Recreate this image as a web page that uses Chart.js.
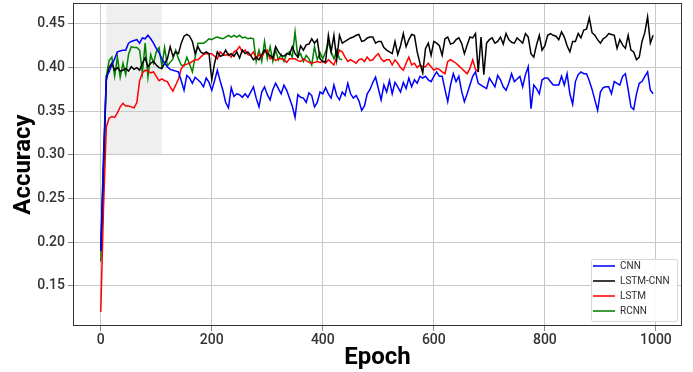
<!DOCTYPE html>
<html><head><meta charset="utf-8">
<script src="https://cdn.jsdelivr.net/npm/chart.js@4/dist/chart.umd.min.js"></script>
<style>html,body{margin:0;padding:0;background:#fff;}#wrap{width:693px;height:372px;position:relative;}</style>
</head><body><div id="wrap"><canvas id="c" width="693" height="372"></canvas></div>
<script>
const epochStep = 5;
const seriesNames = ['CNN', 'LSTM-CNN', 'LSTM', 'RCNN'];
const seriesColors = ['#0000ff', '#000000', '#ff0000', '#008000'];

const cnnAcc = [
0.19,0.30,0.39,0.395,0.403,0.41,0.418,0.419,0.42,0.42,
0.428,0.43,0.431,0.432,0.428,0.434,0.433,0.437,0.433,0.428,
0.422,0.417,0.41,0.405,0.401,0.398,0.397,0.396,0.395,0.385,
0.374,0.391,0.388,0.382,0.389,0.386,0.383,0.378,0.388,0.383,
0.374,0.385,0.397,0.385,0.374,0.36,0.354,0.377,0.367,0.37,
0.369,0.366,0.37,0.366,0.372,0.378,0.365,0.355,0.372,0.378,
0.369,0.363,0.375,0.382,0.376,0.37,0.38,0.374,0.365,0.356,
0.343,0.369,0.366,0.365,0.36,0.371,0.368,0.355,0.36,0.372,
0.37,0.377,0.37,0.365,0.38,0.368,0.363,0.372,0.368,0.382,
0.37,0.365,0.368,0.362,0.351,0.356,0.37,0.375,0.383,0.389,
0.376,0.363,0.38,0.372,0.385,0.37,0.383,0.378,0.372,0.383,
0.376,0.388,0.378,0.386,0.382,0.39,0.388,0.39,0.386,0.384,
0.39,0.395,0.39,0.39,0.375,0.361,0.38,0.393,0.384,0.39,
0.373,0.361,0.37,0.38,0.39,0.395,0.382,0.38,0.378,0.376,
0.388,0.383,0.378,0.391,0.386,0.378,0.374,0.382,0.393,0.384,
0.387,0.39,0.378,0.392,0.401,0.353,0.38,0.376,0.37,0.386,
0.388,0.388,0.384,0.38,0.38,0.38,0.39,0.38,0.393,0.37,
0.358,0.384,0.392,0.395,0.393,0.393,0.385,0.375,0.363,0.351,
0.372,0.377,0.378,0.378,0.37,0.384,0.382,0.38,0.39,0.393,
0.375,0.355,0.352,0.37,0.382,0.384,0.39,0.395,0.374,0.37
];
const lstmCnnAcc = [
0.19,0.29,0.385,0.40,0.405,0.397,0.40,0.396,0.397,0.399,
0.396,0.401,0.398,0.40,0.397,0.405,0.411,0.401,0.405,0.407,
0.403,0.40,0.399,0.405,0.41,0.424,0.413,0.418,0.416,0.428,
0.436,0.438,0.436,0.43,0.416,0.424,0.418,0.416,0.418,0.416,
0.386,0.405,0.418,0.413,0.414,0.42,0.414,0.416,0.413,0.418,
0.411,0.42,0.416,0.418,0.414,0.409,0.412,0.409,0.415,0.42,
0.416,0.414,0.411,0.424,0.418,0.414,0.413,0.416,0.415,0.424,
0.416,0.412,0.425,0.42,0.426,0.427,0.433,0.428,0.432,0.41,
0.407,0.407,0.437,0.418,0.437,0.409,0.437,0.428,0.43,0.432,
0.434,0.435,0.437,0.438,0.43,0.431,0.434,0.435,0.435,0.428,
0.43,0.43,0.423,0.42,0.418,0.416,0.43,0.415,0.425,0.439,
0.424,0.432,0.438,0.437,0.418,0.405,0.394,0.422,0.428,0.414,
0.43,0.428,0.425,0.414,0.433,0.435,0.427,0.428,0.432,0.434,
0.428,0.416,0.426,0.435,0.434,0.439,0.395,0.435,0.392,0.428,
0.432,0.434,0.428,0.43,0.435,0.427,0.439,0.432,0.429,0.428,
0.434,0.431,0.428,0.439,0.435,0.416,0.412,0.426,0.437,0.42,
0.425,0.437,0.439,0.437,0.436,0.432,0.441,0.435,0.425,0.418,
0.43,0.43,0.439,0.434,0.443,0.444,0.457,0.44,0.437,0.432,
0.428,0.433,0.435,0.439,0.438,0.437,0.422,0.432,0.426,0.422,
0.437,0.42,0.418,0.409,0.412,0.43,0.44,0.458,0.428,0.437
];
const lstmAcc = [
0.12,0.24,0.332,0.342,0.344,0.343,0.348,0.355,0.359,0.356,
0.356,0.355,0.354,0.36,0.385,0.394,0.397,0.396,0.394,0.395,
0.39,0.385,0.387,0.385,0.384,0.378,0.373,0.38,0.387,0.399,
0.403,0.404,0.405,0.407,0.409,0.409,0.412,0.415,0.416,0.416,
0.416,0.413,0.41,0.418,0.415,0.414,0.416,0.412,0.418,0.42,
0.424,0.418,0.42,0.415,0.414,0.418,0.41,0.415,0.412,0.418,
0.42,0.41,0.412,0.408,0.41,0.41,0.409,0.406,0.41,0.41,
0.41,0.408,0.407,0.41,0.408,0.406,0.405,0.406,0.407,0.406,
0.407,0.405,0.409,0.406,0.403,0.412,0.42,0.418,0.412,0.407,
0.409,0.407,0.405,0.409,0.41,0.407,0.412,0.408,0.409,0.413,
0.416,0.41,0.407,0.409,0.409,0.403,0.409,0.405,0.40,0.397,
0.405,0.412,0.403,0.405,0.40,0.403,0.401,0.401,0.405,0.401,
0.397,0.399,0.398,0.395,0.393,0.407,0.409,0.407,0.405,0.402,
0.399,0.396,0.393,0.399,0.409,0.398,0.395
];
const rcnnAcc = [
0.178,0.28,0.39,0.408,0.412,0.39,0.412,0.389,0.405,0.392,
0.415,0.424,0.423,0.423,0.42,0.394,0.428,0.389,0.415,0.405,
0.418,0.423,0.402,0.423,0.402,0.406,0.41,0.42,0.41,0.403,
0.402,0.412,0.404,0.395,0.412,0.428,0.428,0.428,0.43,0.433,
0.432,0.434,0.435,0.434,0.433,0.435,0.437,0.435,0.437,0.435,
0.437,0.434,0.435,0.433,0.434,0.433,0.407,0.42,0.407,0.43,
0.41,0.424,0.407,0.42,0.409,0.415,0.407,0.416,0.418,0.412,
0.441,0.412,0.416,0.407,0.414,0.41,0.403,0.424,0.409,0.417,
0.41,0.418,0.429,0.418,0.41,0.42,0.41,0.409
];
const seriesValues = [cnnAcc, lstmCnnAcc, lstmAcc, rcnnAcc];

const xTicks = [0, 200, 400, 600, 800, 1000];
const yTicks = [0.15, 0.20, 0.25, 0.30, 0.35, 0.40, 0.45];
const xRange = [-50, 1047];
const yRange = [0.104, 0.474];
const shadeEpochs = [10, 110];
const shadeFloor = 0.30;

const datasets = seriesNames.map((name, k) => ({
  label: name,
  data: seriesValues[k].map((v, i) => ({ x: i * epochStep, y: v })),
  borderColor: seriesColors[k],
  backgroundColor: seriesColors[k],
  borderWidth: 1.5,
  pointRadius: 0,
  tension: 0,
  fill: false
}));

const shadePlugin = {
  id: 'shade',
  beforeDraw(chart) {
    const { ctx, chartArea: ca, scales: { x, y } } = chart;
    const x0 = x.getPixelForValue(shadeEpochs[0]);
    const x1 = x.getPixelForValue(shadeEpochs[1]);
    const y0 = y.getPixelForValue(shadeFloor);
    ctx.save();
    ctx.fillStyle = '#efefef';
    ctx.fillRect(x0, ca.top, x1 - x0, y0 - ca.top);
    ctx.restore();
  }
};
const framePlugin = {
  id: 'frame',
  afterDatasetsDraw(chart) {
    const { ctx, chartArea: ca } = chart;
    ctx.save();
    ctx.strokeStyle = '#333';
    ctx.lineWidth = 1;
    ctx.strokeRect(ca.left + 0.5, ca.top + 0.5, ca.right - ca.left - 1, ca.bottom - ca.top - 1);
    ctx.restore();
  }
};
const legendPlugin = {
  id: 'legendPlace',
  afterLayout(chart) {
    const lg = chart.legend, ca = chart.chartArea;
    if (!lg) return;
    const w = lg.width;
    lg.left = ca.right - 94;
    lg.right = lg.left + w;
    lg.bottom = ca.bottom - 5;
    lg.top = ca.top;
  },
  afterDraw(chart) {
    const lg = chart.legend, ca = chart.chartArea, ctx = chart.ctx;
    if (!lg) return;
    const bx0 = lg.left + 3.5, bx1 = ca.right - 4.5, by1 = lg.bottom + 0.5, by0 = by1 - 62;
    ctx.save();
    ctx.fillStyle = 'rgba(255,255,255,0.9)';
    ctx.strokeStyle = '#d6d6d6';
    ctx.lineWidth = 1;
    ctx.beginPath();
    ctx.roundRect(bx0, by0, bx1 - bx0, by1 - by0, 2);
    ctx.fill();
    ctx.stroke();
    ctx.restore();
    lg.draw();
  }
};

const tickFont = { family: 'Roboto', size: 14, weight: '500' };
const titleFont = { family: 'Roboto', size: 24, weight: 'bold' };
const noPad = s => { s.paddingTop = 0; s.paddingBottom = 0; s.paddingLeft = 0; s.paddingRight = 0; };

new Chart(document.getElementById('c'), {
  type: 'line',
  data: { datasets },
  options: {
    responsive: false,
    animation: false,
    devicePixelRatio: 1,
    layout: { padding: { top: 3, right: 11, left: 0, bottom: 0 } },
    plugins: {
      legend: {
        position: 'chartArea',
        align: 'end',
        labels: {
          usePointStyle: true,
          pointStyle: 'line',
          pointStyleWidth: 22,
          boxHeight: 10,
          padding: 5,
          color: '#333',
          font: { family: 'Roboto', size: 10 }
        }
      },
      tooltip: { enabled: false }
    },
    scales: {
      x: {
        type: 'linear',
        min: xRange[0],
        max: xRange[1],
        afterBuildTicks: s => { s.ticks = xTicks.map(v => ({ value: v })); },
        afterFit: s => { s.height = 46; noPad(s); },
        ticks: { font: tickFont, color: '#333', padding: 1, maxRotation: 0, callback: v => String(v) },
        grid: { color: '#c8c8c8', lineWidth: 1, tickLength: 5, tickColor: '#888' },
        border: { display: false },
        title: { display: true, text: 'Epoch', font: titleFont, color: '#000', padding: { top: 0, bottom: 0 } }
      },
      y: {
        type: 'linear',
        min: yRange[0],
        max: yRange[1],
        afterBuildTicks: s => { s.ticks = yTicks.map(v => ({ value: v })); },
        afterFit: s => { s.width = 73; noPad(s); },
        ticks: { font: tickFont, color: '#333', padding: 3, callback: v => Number(v).toFixed(2) },
        grid: { color: '#c8c8c8', lineWidth: 1, tickLength: 5, tickColor: '#888' },
        border: { display: false },
        title: { display: true, text: 'Accuracy', font: titleFont, color: '#000', padding: { top: 10, bottom: 0 } }
      }
    }
  },
  plugins: [shadePlugin, framePlugin, legendPlugin]
});
</script></body></html>
